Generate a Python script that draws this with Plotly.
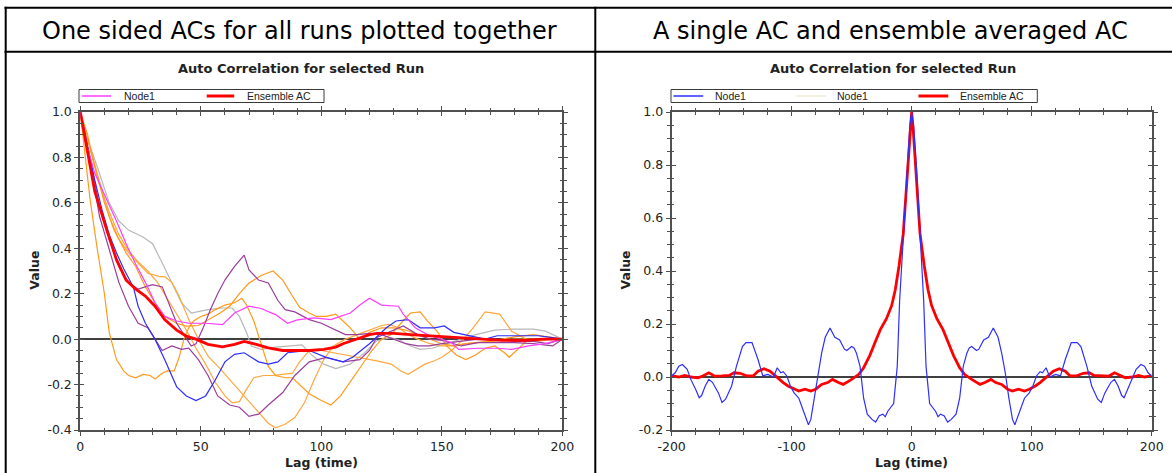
import plotly.graph_objects as go

W, H = 1172, 473

# ---------------- data: left chart (one-sided ACs of all runs) ----------------
MAG_LAG = [0, 2, 6, 10, 15, 19, 23, 27, 31, 35, 40, 45, 52, 59, 64, 70, 75, 81, 86, 90,
           97, 104, 112, 116, 120, 125, 132, 134, 139, 144, 150, 154, 157, 165, 173, 179, 186, 193, 200]
MAG_VAL = [1.0, 0.88, 0.73, 0.64, 0.52, 0.42, 0.33, 0.25, 0.16, 0.10, 0.08, 0.07, 0.07, 0.064, 0.115,
           0.145, 0.135, 0.108, 0.07, 0.085, 0.094, 0.086, 0.115, 0.15, 0.18, 0.15, 0.145, 0.11, 0.05,
           0.02, 0.0, -0.015, -0.045, -0.04, -0.04, -0.045, -0.03, -0.02, 0.0]

BLU_LAG = [0, 3, 6, 9, 12, 15, 18, 22, 24, 27, 31, 35, 40, 44, 48, 52, 56, 60, 64, 68, 74, 78, 82,
           86, 90, 95, 102, 109, 113, 120, 127, 131, 136, 138, 141, 147, 151, 155, 161, 168, 173,
           185, 190, 196, 200]
BLU_VAL = [1.0, 0.85, 0.7, 0.57, 0.46, 0.38, 0.31, 0.23, 0.145, 0.07, 0.0, -0.09, -0.21, -0.25,
           -0.27, -0.25, -0.18, -0.1, -0.067, -0.06, -0.1, -0.11, -0.1, -0.06, -0.055, -0.05, -0.08,
           -0.1, -0.08, -0.02, 0.05, 0.08, 0.086, 0.07, 0.05, 0.05, 0.058, 0.03, 0.015, 0.0, 0.015,
           0.015, 0.015, 0.007, 0.0]

GRY_LAG = [0, 3, 7, 12, 16, 20, 26, 30, 34, 38, 42, 46, 53, 59, 63, 66, 69, 71, 75, 81, 86, 92,
           96, 101, 106, 112, 118, 123, 129, 133, 137, 141, 146, 152, 158, 164, 172, 179, 188, 193, 200]
GRY_VAL = [1.0, 0.88, 0.76, 0.6, 0.52, 0.48, 0.45, 0.42, 0.335, 0.25, 0.16, 0.115, 0.13, 0.137,
           0.137, 0.1, 0.028, -0.03, -0.045, -0.035, -0.03, -0.025, -0.07, -0.11, -0.13, -0.11,
           -0.06, -0.007, 0.007, -0.007, -0.03, -0.045, -0.04, -0.02, 0.0, 0.02, 0.04, 0.044,
           0.044, 0.035, 0.0]

PRA_LAG = [0, 4, 8, 12, 16, 20, 24, 30, 34, 37, 40, 43, 46, 48, 51, 54, 57, 60, 64, 68, 70, 74,
           78, 82, 85, 89, 95, 100, 105, 110, 115, 120, 125, 130, 135, 140, 145, 150, 158, 165,
           172, 180, 188, 194, 200]
PRA_VAL = [1.0, 0.8, 0.58, 0.44, 0.32, 0.25, 0.22, 0.24, 0.23, 0.15, 0.07, 0.02, -0.03, -0.02,
           0.05, 0.13, 0.2, 0.26, 0.32, 0.37, 0.305, 0.26, 0.247, 0.17, 0.13, 0.12, 0.086, 0.07,
           0.045, 0.02, 0.02, 0.025, 0.02, 0.0, -0.02, -0.03, -0.03, -0.02, -0.01, 0.0, 0.0,
           -0.01, -0.01, -0.02, 0.0]

PRB_LAG = [0, 4, 8, 12, 16, 20, 24, 28, 31, 34, 38, 42, 45, 49, 53, 57, 62, 66, 70, 74, 78, 84,
           89, 95, 102, 109, 116, 120, 123, 128, 134, 140, 145, 151, 158, 165, 172, 180, 188, 196, 200]
PRB_VAL = [1.0, 0.78, 0.54, 0.39, 0.25, 0.145, 0.07, 0.05, 0.0, -0.05, -0.03, -0.045, -0.04,
           -0.09, -0.16, -0.25, -0.29, -0.3, -0.34, -0.33, -0.29, -0.235, -0.16, -0.1, -0.08,
           -0.1, -0.09, -0.05, 0.007, 0.03, 0.058, 0.02, 0.0, -0.007, -0.03, -0.015, -0.015,
           -0.015, -0.02, -0.03, 0.0]

OR1_LAG = [0, 4, 7, 10, 12, 15, 18, 20, 23, 26, 29, 31, 34, 36, 39, 41, 43, 45, 47, 50, 53, 56,
           60, 64, 67, 69, 72, 75, 78, 81, 85, 88, 91, 95, 100, 104, 108, 112, 117, 121, 125,
           129, 133, 137, 141, 144, 148, 152, 156, 160, 164, 168, 172, 176, 178, 181, 185, 190, 200]
OR1_VAL = [1.0, 0.62, 0.4, 0.2, 0.03, -0.09, -0.14, -0.16, -0.17, -0.155, -0.16, -0.175, -0.15,
           -0.14, -0.14, -0.08, 0.0, 0.05, 0.08, 0.1, 0.11, 0.13, 0.15, 0.16, 0.18, 0.15, 0.08,
           -0.02, -0.12, -0.16, -0.17, -0.17, -0.2, -0.24, -0.27, -0.29, -0.25, -0.19, -0.11,
           -0.05, 0.0, 0.02, 0.07, 0.115, 0.12, 0.08, 0.035, -0.03, -0.07, -0.09, -0.07, -0.04,
           -0.03, -0.06, -0.08, -0.05, -0.01, 0.0, 0.0]

OR2_LAG = [0, 3, 6, 10, 14, 19, 23, 27, 31, 35, 40, 44, 49, 53, 58, 62, 66, 70, 75, 80, 84, 88,
           91, 95, 98, 102, 106, 109, 112, 116, 120, 125, 130, 135, 140, 145, 150, 155, 160, 170,
           180, 188, 195, 200]
OR2_VAL = [1.0, 0.9, 0.76, 0.6, 0.48, 0.38, 0.32, 0.23, 0.16, 0.1, 0.07, 0.057, 0.06, 0.086,
           0.115, 0.145, 0.2, 0.247, 0.28, 0.3, 0.26, 0.19, 0.14, 0.115, 0.1, 0.1, 0.11, 0.08,
           0.05, 0.0, 0.03, 0.05, 0.05, 0.04, 0.02, 0.0, -0.02, -0.03, -0.02, -0.01, 0.01, 0.02,
           0.01, 0.0]

OR3_LAG = [0, 4, 8, 12, 16, 20, 24, 28, 33, 35, 38, 41, 45, 49, 53, 58, 63, 68, 74, 78, 81, 85,
           89, 93, 97, 101, 105, 110, 115, 120, 125, 128, 132, 136, 140, 145, 150, 155, 160, 170,
           180, 190, 200]
OR3_VAL = [1.0, 0.85, 0.69, 0.54, 0.44, 0.38, 0.335, 0.29, 0.275, 0.275, 0.25, 0.19, 0.086, 0.0,
           -0.075, -0.13, -0.19, -0.25, -0.32, -0.37, -0.39, -0.375, -0.345, -0.28, -0.18, -0.09,
           -0.03, 0.0, 0.02, 0.04, 0.06, 0.065, 0.05, 0.02, 0.0, -0.02, -0.03, -0.03, -0.02,
           -0.01, 0.0, 0.0, 0.0]

OR4_LAG = [0, 4, 8, 12, 16, 20, 24, 28, 32, 36, 40, 44, 48, 52, 56, 60, 63, 66, 69, 72, 76, 80,
           84, 88, 91, 95, 100, 105, 110, 116, 123, 129, 133, 136, 140, 143, 147, 150, 154, 159,
           163, 168, 174, 179, 185, 190, 195, 200]
OR4_VAL = [1.0, 0.84, 0.68, 0.56, 0.46, 0.39, 0.34, 0.3, 0.25, 0.18, 0.11, 0.04, -0.04, -0.11,
           -0.19, -0.25, -0.28, -0.275, -0.22, -0.17, -0.16, -0.16, -0.155, -0.15, -0.1, -0.05,
           -0.05, -0.06, -0.07, -0.08, -0.096, -0.11, -0.14, -0.155, -0.13, -0.11, -0.095, -0.08,
           -0.05, 0.0, 0.05, 0.12, 0.11, 0.035, 0.0, -0.01, 0.0, 0.0]

ENS1_LAG = [0, 3, 6, 11, 15, 19, 23, 27, 31, 35, 40, 44, 48, 53, 59, 64, 68, 73, 78, 84, 89, 95,
            101, 106, 109, 116, 120, 123, 130, 137, 144, 151, 158, 165, 175, 185, 192, 200]
ENS1_VAL = [1.0, 0.82, 0.65, 0.48, 0.35, 0.26, 0.22, 0.19, 0.145, 0.086, 0.04, 0.013, 0.0, -0.023,
            -0.034, -0.023, -0.01, -0.023, -0.038, -0.05, -0.05, -0.05, -0.045, -0.035, -0.02,
            0.007, 0.02, 0.025, 0.025, 0.02, 0.015, 0.01, 0.004, 0.0, -0.005, -0.005, 0.0, 0.0]

# ---------------- data: right chart (two-sided single AC + ensemble AC) ----------------
NODE_LAG = [-200, -197, -194, -191, -187, -184, -180, -177, -175, -172, -169, -166, -161, -158,
            -155, -150, -146, -141, -138, -133, -128, -124, -120, -115, -112, -109, -107, -104,
            -101, -98, -94, -89, -86, -84, -81, -78, -75, -72, -68, -64, -60, -56, -54, -50, -48,
            -46, -43, -40, -37, -33, -30, -27, -24, -22, -20, -15, -12, -10, -7, -4, -1.5,
            0, 1.5, 4, 7, 10, 12, 15, 20, 22, 24, 27, 30, 33, 37, 40, 43, 46, 48, 50, 54, 56, 60,
            64, 68, 72, 75, 78, 81, 84, 86, 89, 94, 98, 101, 104, 107, 109, 112, 115, 120, 124,
            128, 133, 138, 141, 146, 150, 155, 158, 161, 166, 169, 172, 175, 177, 180, 184, 187,
            191, 194, 197, 200]
NODE_VAL = [0.004, 0.016, 0.041, 0.047, 0.029, -0.009, -0.046, -0.078, -0.07, -0.034, -0.009,
            -0.02, -0.06, -0.096, -0.084, -0.034, 0.04, 0.115, 0.13, 0.13, 0.066, 0.004, 0.01,
            0.0, 0.035, 0.016, 0.02, 0.004, -0.034, -0.06, -0.08, -0.14, -0.18, -0.16, -0.08,
            0.016, 0.09, 0.15, 0.185, 0.15, 0.14, 0.105, 0.10, 0.115, 0.11, 0.09, 0.04, -0.08,
            -0.14, -0.16, -0.17, -0.146, -0.14, -0.15, -0.13, -0.10, 0.04, 0.29, 0.54, 0.79, 0.95,
            1.0, 0.95, 0.79, 0.54, 0.29, 0.04, -0.10, -0.13, -0.15, -0.14, -0.146, -0.17, -0.16,
            -0.14, -0.08, 0.04, 0.09, 0.11, 0.115, 0.10, 0.105, 0.14, 0.15, 0.185, 0.15, 0.09,
            0.016, -0.08, -0.16, -0.18, -0.14, -0.08, -0.06, -0.034, 0.004, 0.02, 0.016, 0.035,
            0.0, 0.01, 0.004, 0.066, 0.13, 0.13, 0.115, 0.04, -0.034, -0.084, -0.096, -0.06,
            -0.02, -0.009, -0.034, -0.07, -0.078, -0.046, -0.009, 0.029, 0.047, 0.041, 0.016, 0.004]

ENS2_LAG = [-200, -194, -189, -184, -178, -174, -169, -164, -158, -152, -148, -143, -137, -132,
            -128, -123, -118, -112, -107, -103, -98, -94, -89, -84, -80, -75, -70, -66, -61, -57,
            -50, -44, -40, -35, -30.5, -26, -21, -16.6, -13.6, -10.5, -7, -4, -1.2,
            0, 1.2, 4, 7, 10.5, 13.6, 16.6, 21, 26, 30.5, 35, 40, 44, 50, 57, 61, 66, 70, 75, 80,
            84, 89, 94, 98, 103, 107, 112, 118, 123, 128, 132, 137, 143, 148, 152, 158, 164, 169,
            174, 178, 184, 189, 194, 200]
ENS2_VAL = [0.004, 0.0, 0.006, 0.0, -0.003, 0.004, 0.016, 0.003, 0.004, 0.006, 0.016, 0.014,
            0.004, 0.004, 0.022, 0.031, 0.022, -0.003, -0.021, -0.034, -0.046, -0.053, -0.046,
            -0.053, -0.046, -0.028, -0.021, -0.009, -0.021, -0.028, -0.009, 0.01, 0.035, 0.08,
            0.13, 0.18, 0.22, 0.27, 0.33, 0.42, 0.54, 0.73, 0.94,
            1.0, 0.94, 0.73, 0.54, 0.42, 0.33, 0.27, 0.22, 0.18, 0.13, 0.08, 0.035, 0.01, -0.009,
            -0.028, -0.021, -0.009, -0.021, -0.028, -0.046, -0.053, -0.046, -0.053, -0.046,
            -0.034, -0.021, -0.003, 0.022, 0.031, 0.022, 0.004, 0.004, 0.014, 0.016, 0.006,
            0.004, 0.003, 0.016, 0.004, -0.003, 0.0, 0.006, 0.0, 0.004]

# ---------------- text / tick labels ----------------
HEADERS = ["One sided ACs for all runs plotted together", "A single AC and ensemble averaged AC"]
CHART_TITLE = "Auto Correlation for selected Run"
X_TITLE = "Lag (time)"
Y_TITLE = "Value"
L_XTICKS = [0, 50, 100, 150, 200]
L_XTEXT = ["0", "50", "100", "150", "200"]
L_YTICKS = [-0.4, -0.2, 0.0, 0.2, 0.4, 0.6, 0.8, 1.0]
L_YTEXT = ["-0.4", "-0.2", "0.0", "0.2", "0.4", "0.6", "0.8", "1.0"]
R_XTICKS = [-200, -100, 0, 100, 200]
R_XTEXT = ["-200", "-100", "0", "100", "200"]
R_YTICKS = [-0.2, 0.0, 0.2, 0.4, 0.6, 0.8, 1.0]
R_YTEXT = ["-0.2", "0.0", "0.2", "0.4", "0.6", "0.8", "1.0"]
LEGEND_L = ["Node1", "Ensemble AC"]
LEGEND_R = ["Node1", "Node1", "Ensemble AC"]

# ---------------- styling ----------------
MAGENTA = "#ff3cff"
BLUE = "#2e2eff"
GRAY = "#b8b8b8"
PURPLE = "#9b3d9b"
ORANGE1 = "#ff9a1c"
ORANGE2 = "#ffa83f"
RED = "#ff0000"
PALE = "#f1edd6"
AXC = "#505050"
TXT = "#222222"


def px(x):
    return x / W


def py(y):
    return 1 - y / H


fig = go.Figure()

left_series = [
    (GRY_LAG, GRY_VAL, GRAY, 1.2, "run"),
    (OR4_LAG, OR4_VAL, ORANGE2, 1.2, "run"),
    (OR3_LAG, OR3_VAL, ORANGE2, 1.2, "run"),
    (OR2_LAG, OR2_VAL, ORANGE1, 1.2, "run"),
    (OR1_LAG, OR1_VAL, ORANGE1, 1.2, "run"),
    (PRB_LAG, PRB_VAL, PURPLE, 1.2, "run"),
    (PRA_LAG, PRA_VAL, PURPLE, 1.2, "run"),
    (BLU_LAG, BLU_VAL, BLUE, 1.2, "run"),
    (MAG_LAG, MAG_VAL, MAGENTA, 1.2, "Node1"),
    (ENS1_LAG, ENS1_VAL, RED, 2.8, "Ensemble AC"),
]
for lx, ly, col, wd, nm in left_series:
    fig.add_trace(go.Scatter(x=lx, y=ly, mode="lines", name=nm, xaxis="x", yaxis="y",
                             line=dict(color=col, width=wd), showlegend=False, hoverinfo="skip"))

fig.add_trace(go.Scatter(x=ENS2_LAG, y=ENS2_VAL, mode="lines", name="Ensemble AC", xaxis="x2",
                         yaxis="y2", line=dict(color=RED, width=2.8), showlegend=False,
                         hoverinfo="skip"))
fig.add_trace(go.Scatter(x=NODE_LAG, y=NODE_VAL, mode="lines", name="Node1", xaxis="x2", yaxis="y2",
                         line=dict(color=BLUE, width=1.2), showlegend=False, hoverinfo="skip"))
# empty traces that carry the inner-tick overlay axes
fig.add_trace(go.Scatter(x=[None], y=[None], xaxis="x3", yaxis="y3", showlegend=False,
                         hoverinfo="skip"))
fig.add_trace(go.Scatter(x=[None], y=[None], xaxis="x4", yaxis="y4", showlegend=False,
                         hoverinfo="skip"))

TICKFONT = dict(family="DejaVu Sans", size=12.5, color=TXT)
YDOM = [py(430), py(112)]
LXDOM = [px(80.3), px(562.3)]
RXDOM = [px(671.6), px(1151.7)]


def axis(dom, rng, tv, tt, minor_vals, side_ticks, labels=True, overlay=None, anchor=None,
         zeroline=False):
    d = dict(range=rng, autorange=False, automargin=False, tickmode="array", tickvals=tv,
             ticktext=tt, ticks=side_ticks, ticklen=4, tickwidth=1, tickcolor=AXC,
             minor=dict(tickmode="array", tickvals=minor_vals, ticks=side_ticks, ticklen=2.5,
                        tickwidth=1, tickcolor=AXC, showgrid=False),
             showline=True, linecolor=AXC, linewidth=2, mirror="ticks", showgrid=False,
             zeroline=zeroline, showticklabels=labels, tickfont=TICKFONT, fixedrange=True)
    if zeroline:
        d.update(zerolinecolor="#404040", zerolinewidth=1.5)
    if overlay is None:
        d["domain"] = dom
    else:
        d["overlaying"] = overlay
    if anchor:
        d["anchor"] = anchor
    return d


L_XMINOR = list(range(0, 201, 10))
R_XMINOR = list(range(-200, 201, 20))
L_YMINOR = [round(-0.4 + 0.05 * i, 2) for i in range(29)]
R_YMINOR = [round(-0.2 + 0.05 * i, 2) for i in range(25)]

fig.update_layout(
    template="none",
    xaxis=axis(LXDOM, [0, 200], L_XTICKS, L_XTEXT, L_XMINOR, "outside", anchor="y"),
    yaxis=axis(YDOM, [-0.4, 1.0], L_YTICKS, L_YTEXT, L_YMINOR, "outside", anchor="x",
               zeroline=True),
    xaxis2=axis(RXDOM, [-200, 200], R_XTICKS, R_XTEXT, R_XMINOR, "outside", anchor="y2"),
    yaxis2=axis(YDOM, [-0.2, 1.0], R_YTICKS, R_YTEXT, R_YMINOR, "outside", anchor="x2",
                zeroline=True),
    xaxis3=axis(None, [0, 200], L_XTICKS, L_XTEXT, L_XMINOR, "inside", labels=False,
                overlay="x", anchor="y3"),
    yaxis3=axis(None, [-0.4, 1.0], L_YTICKS, L_YTEXT, L_YMINOR, "inside", labels=False,
                overlay="y", anchor="x3"),
    xaxis4=axis(None, [-200, 200], R_XTICKS, R_XTEXT, R_XMINOR, "inside", labels=False,
                overlay="x2", anchor="y4"),
    yaxis4=axis(None, [-0.2, 1.0], R_YTICKS, R_YTEXT, R_YMINOR, "inside", labels=False,
                overlay="y2", anchor="x4"),
)

ann = []
# table header texts
ann.append(dict(text=HEADERS[0], x=px(299.5), y=py(31)))
ann.append(dict(text=HEADERS[1], x=px(890.5), y=py(31)))
for a in ann:
    a.update(xref="paper", yref="paper", xanchor="center", yanchor="middle", showarrow=False,
             font=dict(family="DejaVu Sans", size=24, color="#000000"))

BOLD = dict(family="DejaVu Sans", size=13, color=TXT, weight="bold")
for cx in (301, 892.5):
    ann.append(dict(text=CHART_TITLE, x=px(cx), y=py(68.5), xref="paper", yref="paper",
                    xanchor="center", yanchor="middle", showarrow=False, font=BOLD))
for cx in (321.3, 911.6):
    ann.append(dict(text=X_TITLE, x=px(cx), y=py(462), xref="paper", yref="paper",
                    xanchor="center", yanchor="middle", showarrow=False,
                    font=dict(family="DejaVu Sans", size=12.5, color=TXT, weight="bold")))
for cx in (33.7, 624.5):
    ann.append(dict(text=Y_TITLE, x=px(cx), y=py(270), xref="paper", yref="paper",
                    xanchor="center", yanchor="middle", textangle=-90, showarrow=False,
                    font=dict(family="DejaVu Sans", size=12.5, color=TXT, weight="bold")))

LEGFONT = dict(family="Liberation Sans", size=10.5, color=TXT)
for txt, lx in zip(LEGEND_L, (121.5, 245)):
    ann.append(dict(text=txt, x=px(lx), y=py(96), xref="paper", yref="paper", xanchor="left",
                    yanchor="middle", showarrow=False, font=LEGFONT))
for txt, lx in zip(LEGEND_R, (712.5, 835, 957.5)):
    ann.append(dict(text=txt, x=px(lx), y=py(96), xref="paper", yref="paper", xanchor="left",
                    yanchor="middle", showarrow=False, font=LEGFONT))

shapes = []


def hline(x0, x1, y, color, width):
    shapes.append(dict(type="line", xref="paper", yref="paper", x0=px(x0), x1=px(x1), y0=py(y),
                       y1=py(y), line=dict(color=color, width=width), layer="above"))


def vline(x, y0, y1, color, width):
    shapes.append(dict(type="line", xref="paper", yref="paper", x0=px(x), x1=px(x), y0=py(y0),
                       y1=py(y1), line=dict(color=color, width=width), layer="above"))


# table frame
hline(4.5, 1172, 7.7, "#000000", 2)
hline(4.5, 1172, 51.7, "#000000", 2)
vline(5.7, 6.7, 473, "#000000", 2)
vline(595.3, 6.7, 473, "#000000", 2)

# legend boxes
for bx0, bx1 in ((79, 324), (671, 1037.3)):
    shapes.append(dict(type="rect", xref="paper", yref="paper", x0=px(bx0), x1=px(bx1),
                       y0=py(102.5), y1=py(89.5), line=dict(color="#3a3a3a", width=1),
                       fillcolor="#ffffff", layer="above"))
hline(82, 111, 96, MAGENTA, 1.5)
hline(206.7, 234.2, 96, RED, 3)
hline(673.5, 703.2, 96, BLUE, 1.5)
hline(796, 826, 96, PALE, 1.5)
hline(918.5, 948.2, 96, RED, 3)

fig.update_layout(
    width=W, height=H, autosize=False,
    margin=dict(l=0, r=0, t=0, b=0, pad=0),
    paper_bgcolor="#ffffff", plot_bgcolor="#ffffff",
    showlegend=False,
    annotations=ann, shapes=shapes,
)

fig.write_html("out.html", config={"displayModeBar": False, "staticPlot": True},
               post_script="document.body.style.margin='0';document.body.style.overflow='hidden';")
